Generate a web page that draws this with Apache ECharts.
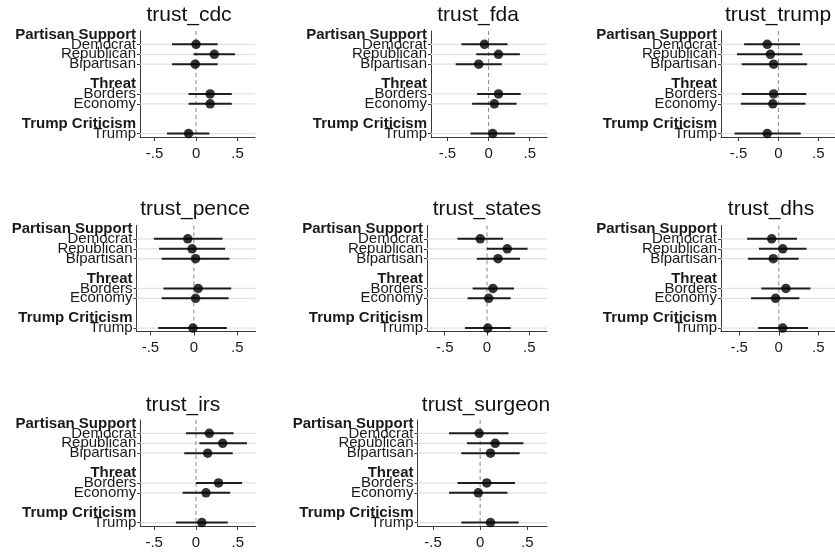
<!DOCTYPE html>
<html><head><meta charset="utf-8">
<script src="https://cdn.jsdelivr.net/npm/echarts@6/dist/echarts.min.js"></script>
<style>html,body{margin:0;padding:0;background:#fff}#c{width:835px;height:554px}</style>
</head><body><div id="c"></div>
<script>
// ---------- data ----------
const panelNames = ['trust_cdc','trust_fda','trust_trump','trust_pence','trust_states','trust_dhs','trust_irs','trust_surgeon'];
const rowLabels = ['Partisan Support','Democrat','Republican','Bipartisan','','Threat','Borders','Economy','','Trump Criticism','Trump'];
const headerRows = [0,5,9];
const dataRows = [1,2,3,6,7,10];   // Democrat, Republican, Bipartisan, Borders, Economy, Trump
const xTicks = [-0.5, 0, 0.5];
const xTickLabels = ['-.5','0','.5'];

const est_cdc = [0.00, 0.22, -0.01, 0.17, 0.17, -0.09];
const lo_cdc  = [-0.29, -0.03, -0.29, -0.09, -0.09, -0.35];
const hi_cdc  = [0.26, 0.47, 0.26, 0.43, 0.43, 0.16];

const est_fda = [-0.05, 0.12, -0.12, 0.12, 0.07, 0.05];
const lo_fda  = [-0.33, -0.15, -0.40, -0.14, -0.20, -0.22];
const hi_fda  = [0.23, 0.38, 0.16, 0.39, 0.34, 0.32];

const est_trump = [-0.14, -0.10, -0.06, -0.06, -0.07, -0.14];
const lo_trump  = [-0.43, -0.52, -0.46, -0.46, -0.47, -0.55];
const hi_trump  = [0.27, 0.30, 0.36, 0.35, 0.34, 0.28];

const est_pence = [-0.07, -0.02, 0.02, 0.05, 0.02, -0.01];
const lo_pence  = [-0.46, -0.40, -0.37, -0.35, -0.37, -0.41];
const hi_pence  = [0.33, 0.36, 0.41, 0.43, 0.40, 0.38];

const est_states = [-0.08, 0.24, 0.13, 0.07, 0.02, 0.01];
const lo_states  = [-0.35, 0.00, -0.12, -0.17, -0.23, -0.26];
const hi_states  = [0.19, 0.48, 0.39, 0.32, 0.28, 0.28];

const est_dhs = [-0.09, 0.05, -0.07, 0.09, -0.04, 0.05];
const lo_dhs  = [-0.40, -0.25, -0.39, -0.22, -0.35, -0.26];
const hi_dhs  = [0.23, 0.35, 0.25, 0.40, 0.26, 0.37];

const est_irs = [0.16, 0.32, 0.14, 0.27, 0.12, 0.07];
const lo_irs  = [-0.12, 0.04, -0.14, 0.00, -0.16, -0.24];
const hi_irs  = [0.45, 0.61, 0.44, 0.55, 0.41, 0.38];

const est_surgeon = [-0.01, 0.16, 0.11, 0.07, -0.02, 0.11];
const lo_surgeon  = [-0.33, -0.14, -0.20, -0.24, -0.33, -0.20];
const hi_surgeon  = [0.30, 0.46, 0.42, 0.37, 0.29, 0.41];

const panelEst = [est_cdc, est_fda, est_trump, est_pence, est_states, est_dhs, est_irs, est_surgeon];
const panelLo  = [lo_cdc, lo_fda, lo_trump, lo_pence, lo_states, lo_dhs, lo_irs, lo_surgeon];
const panelHi  = [hi_cdc, hi_fda, hi_trump, hi_pence, hi_states, hi_dhs, hi_irs, hi_surgeon];

// ---------- layout (positions / styles) ----------
const layout = [
  {left:140,   top:31,    width:115,   xmin:-0.675, tx:189, ty:15},
  {left:431,   top:31,    width:116,   xmin:-0.70,  tx:478, ty:15},
  {left:721,   top:31,    width:117,   xmin:-0.72,  tx:778, ty:15},
  {left:136.5, top:225.5, width:119,   xmin:-0.66,  tx:195, ty:209.5},
  {left:427,   top:225.5, width:120,   xmin:-0.71,  tx:487, ty:209.5},
  {left:721,   top:225.5, width:118,   xmin:-0.73,  tx:771, ty:209.5},
  {left:140.3, top:420,   width:115,   xmin:-0.666, tx:183, ty:405},
  {left:417.5, top:420,   width:129.5, xmin:-0.665, tx:486, ty:405}
];
const XMAX = 0.71, YMIN = -0.35, YMAX = 10.35, PH = 106;
const FONT = "'Liberation Sans', Arial, Helvetica, sans-serif";
const TXT = '#1a1a1a', AX = '#3a3a3a';
// label rows split over stacked axes so that neighbouring labels are never auto-hidden
const labelGroups = [[1,3,6,10],[2,7],headerRows];

const grids = [], xAxes = [], yAxes = [], series = [], graphics = [];

panelNames.forEach((name, i) => {
  const L = layout[i];
  grids.push({left:L.left, top:L.top, width:L.width, height:PH, containLabel:false});
  xAxes.push({
    type:'value', gridIndex:i, min:L.xmin, max:XMAX,
    axisLine:{show:true, onZero:false, lineStyle:{color:AX, width:1}},
    axisTick:{show:true, customValues:xTicks, length:4, lineStyle:{color:AX}},
    axisLabel:{show:true, customValues:xTicks, margin:9, fontSize:15, fontFamily:FONT, color:TXT,
      showMinLabel:true, showMaxLabel:true, hideOverlap:false,
      formatter: v => { let k=0, d=1e9; xTicks.forEach((t,j)=>{ if(Math.abs(t-v)<d){d=Math.abs(t-v);k=j;} }); return xTickLabels[k]; }},
    splitLine:{show:false}
  });
  const mainY = yAxes.length;
  labelGroups.forEach((grp, g) => {
    const isHeader = (g === 2);
    yAxes.push({
      type:'value', gridIndex:i, position:'left', offset:0, inverse:true, min:YMIN, max:YMAX,
      axisLine:{show: g === 0, onZero:false, lineStyle:{color:AX, width:1}},
      axisTick:{show: g === 0, customValues:dataRows, length:3, lineStyle:{color:AX}},
      axisLabel:{show:true, customValues:grp, margin:4,
        showMinLabel:true, showMaxLabel:true, hideOverlap:false,
        fontSize:15, fontFamily:FONT, color:TXT, fontWeight: isHeader ? 'bold' : 'normal',
        formatter: v => rowLabels[Math.round(v)]},
      splitLine:{show:false}
    });
  });
  // horizontal reference lines at data rows
  series.push({
    type:'custom', xAxisIndex:i, yAxisIndex:mainY, z:1, silent:true, clip:false,
    data: dataRows.map(r => [0, r]), encode:{x:0, y:1},
    renderItem:(params, api) => {
      const cs = params.coordSys;
      const y = api.coord([0, api.value(1)])[1];
      return {type:'line', shape:{x1:cs.x, y1:y, x2:cs.x+cs.width, y2:y}, style:{stroke:'#e1e1e1', lineWidth:1.2}};
    }
  });
  // dashed zero line
  series.push({
    type:'custom', xAxisIndex:i, yAxisIndex:mainY, z:2, silent:true, clip:false,
    data: [[0, 0]], encode:{x:0, y:1},
    renderItem:(params, api) => {
      const cs = params.coordSys;
      const x = api.coord([api.value(0), 0])[0];
      return {type:'line', shape:{x1:x, y1:cs.y, x2:x, y2:cs.y+cs.height}, style:{stroke:'#8a8a8a', lineWidth:1, lineDash:[4,3]}};
    }
  });
  // confidence intervals
  series.push({
    type:'custom', xAxisIndex:i, yAxisIndex:mainY, z:3, silent:true, clip:false,
    data: dataRows.map((r, k) => [panelLo[i][k], panelHi[i][k], r]), encode:{x:[0,1], y:2},
    renderItem:(params, api) => {
      const p1 = api.coord([api.value(0), api.value(2)]);
      const p2 = api.coord([api.value(1), api.value(2)]);
      return {type:'line', shape:{x1:p1[0], y1:p1[1], x2:p2[0], y2:p2[1]}, style:{stroke:'#1e1e1e', lineWidth:2}};
    }
  });
  // point estimates
  series.push({
    type:'scatter', xAxisIndex:i, yAxisIndex:mainY, z:4, silent:true, clip:false,
    symbol:'circle', symbolSize:9.5, itemStyle:{color:'#000'},
    data: dataRows.map((r, k) => [panelEst[i][k], r])
  });
  graphics.push({type:'text', x:L.tx, y:L.ty, silent:true,
    style:{text:name, fontSize:21, fontFamily:FONT, fill:'#111', align:'center', verticalAlign:'middle'}});
});

const chart = echarts.init(document.getElementById('c'), null, {renderer:'canvas'});
chart.setOption({
  backgroundColor:'#ffffff',
  animation:false,
  grid:grids, xAxis:xAxes, yAxis:yAxes, series:series, graphic:graphics
});
</script>
</body></html>
